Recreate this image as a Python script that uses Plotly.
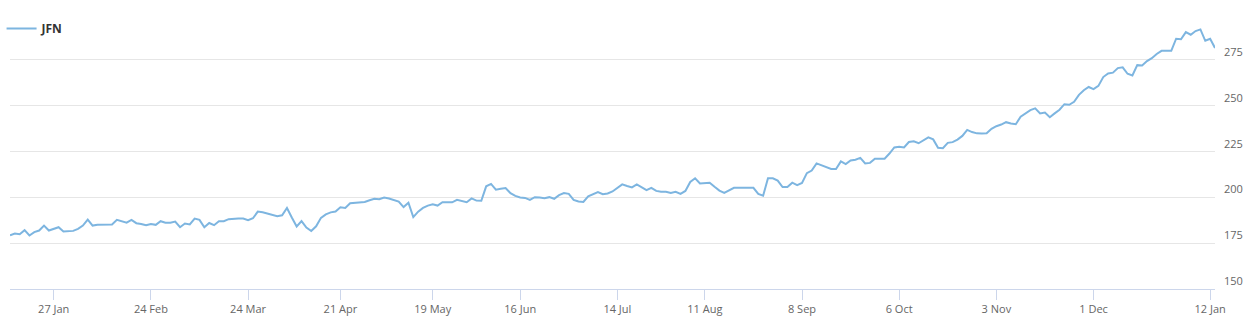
import plotly.graph_objects as go

# JFN price series (one value per trading day, left to right)
jfn_values = [
    179.3, 180.3, 179.9, 182.1, 179.2, 181.0, 181.9, 184.6, 181.9, 183.0,
    183.7, 181.4, 181.7, 181.7, 182.8, 184.6, 187.9, 184.6, 185.0, 185.2,
    185.2, 185.2, 187.7, 187.0, 186.2, 187.7, 185.9, 185.5, 184.8, 185.5,
    185.0, 187.0, 186.2, 186.2, 186.8, 183.7, 185.7, 185.2, 188.4, 187.7,
    183.7, 186.0, 184.8, 187.0, 187.0, 188.1, 188.4, 188.4, 188.4, 187.5,
    188.6, 192.2, 191.9, 191.1, 190.4, 189.7, 190.2, 194.2, 189.0, 184.1,
    187.0, 183.5, 181.6, 184.2, 188.8, 190.7, 191.8, 192.3, 194.6, 194.2,
    196.8, 197.0, 197.3, 197.5, 198.4, 199.2, 199.0, 199.9, 199.4, 198.4,
    197.7, 194.7, 197.1, 189.2, 192.2, 194.2, 195.5, 196.2, 195.5, 197.3,
    197.3, 197.3, 198.6, 197.9, 197.3, 199.4, 198.2, 198.1, 206.0, 207.3,
    204.2, 204.7, 205.1, 202.3, 200.8, 199.9, 199.7, 198.6, 200.1, 199.9,
    199.5, 200.1, 199.2, 201.2, 202.3, 201.9, 198.6, 197.7, 197.5, 200.5,
    201.9, 202.9, 201.7, 202.1, 203.2, 205.0,
    207.1, 206.2, 205.4, 207.1, 205.4, 203.9, 205.2, 203.5, 203.0, 203.0,
    202.4, 203.0, 201.9, 203.5, 208.4, 210.4, 207.6, 207.6, 208.0, 205.8,
    203.7, 202.4, 203.7, 205.2, 205.2, 205.2, 205.2, 205.2, 201.9, 200.9,
    210.4, 210.4, 209.1, 205.6, 205.6, 208.0, 206.7, 207.8, 213.2, 214.6,
    218.5, 217.6, 216.4, 215.5, 215.5, 219.6, 218.1, 220.1, 220.5, 221.5,
    218.5, 218.8, 221.1, 221.1, 221.1, 223.9, 227.2, 227.6, 227.2, 230.2,
    230.6, 229.5, 231.0, 232.7,
    231.6, 227.0, 226.8, 229.7, 230.1, 231.5, 233.5,
    236.8, 235.6, 234.9, 234.8, 234.9, 237.4, 238.8, 239.7, 241.0, 240.3,
    239.9, 244.0, 245.8, 247.6, 248.5, 245.8, 246.2, 243.7, 245.8, 247.8,
    250.8, 250.5, 252.1, 255.9, 258.4, 260.2, 259.0, 260.8, 265.6, 267.6,
    268.0, 270.5, 270.9, 267.4, 266.5, 272.1, 271.9, 274.3, 275.9, 278.2,
    279.9, 279.9, 279.9, 286.5, 286.2, 290.1, 288.7, 290.7, 291.6, 285.4,
    286.5, 281.5,
]
series_name = "JFN"

# x-axis ticks (trading-day index of each labelled date)
x_tick_index = [9, 29, 49, 68, 87, 105, 125, 143, 163, 183, 203, 223, 247]
x_tick_labels = ["27 Jan", "24 Feb", "24 Mar", "21 Apr", "19 May", "16 Jun",
                 "14 Jul", "11 Aug", "8 Sep", "6 Oct", "3 Nov", "1 Dec", "12 Jan"]

# y-axis ticks
y_tick_values = [150, 175, 200, 225, 250, 275, 300]
y_tick_labels = ["150", "175", "200", "225", "250", "275", ""]

x_index = list(range(len(jfn_values)))

fig = go.Figure()
fig.add_trace(go.Scatter(
    x=x_index, y=jfn_values, mode="lines", name=series_name,
    line=dict(color="#7db5e0", width=2),
    showlegend=True,
))

font_family = "Open Sans, DejaVu Sans, sans-serif"

fig.update_layout(
    width=1246, height=327,
    margin=dict(l=10, r=31, t=14, b=38, autoexpand=False),
    paper_bgcolor="white", plot_bgcolor="white",
    font=dict(family=font_family, size=11, color="#666666"),
    showlegend=True,
    legend=dict(
        x=-0.007, y=1, xanchor="left", yanchor="top",
        bgcolor="rgba(0,0,0,0)",
        font=dict(family=font_family, size=12, color="#333333", weight="bold"),
        itemwidth=30,
    ),
    xaxis=dict(
        range=[0, len(jfn_values) - 1],
        tickmode="array", tickvals=x_tick_index, ticktext=x_tick_labels,
        showgrid=False, zeroline=False,
        showline=True, linecolor="#ccd6eb", linewidth=1,
        ticks="outside", ticklen=10, tickcolor="#ccd6eb", tickwidth=1,
        tickfont=dict(family=font_family, size=11, color="#666666"),
        automargin=False,
    ),
    yaxis=dict(
        range=[150, 300], side="right",
        tickmode="array", tickvals=y_tick_values, ticktext=y_tick_labels,
        showgrid=True, gridcolor="#e6e6e6", gridwidth=1,
        zeroline=False, showline=False, ticks="",
        ticklabelposition="outside top", ticklabelstandoff=8,
        tickfont=dict(family=font_family, size=11, color="#666666"),
        automargin=False,
    ),
)

fig.write_html("out.html")
